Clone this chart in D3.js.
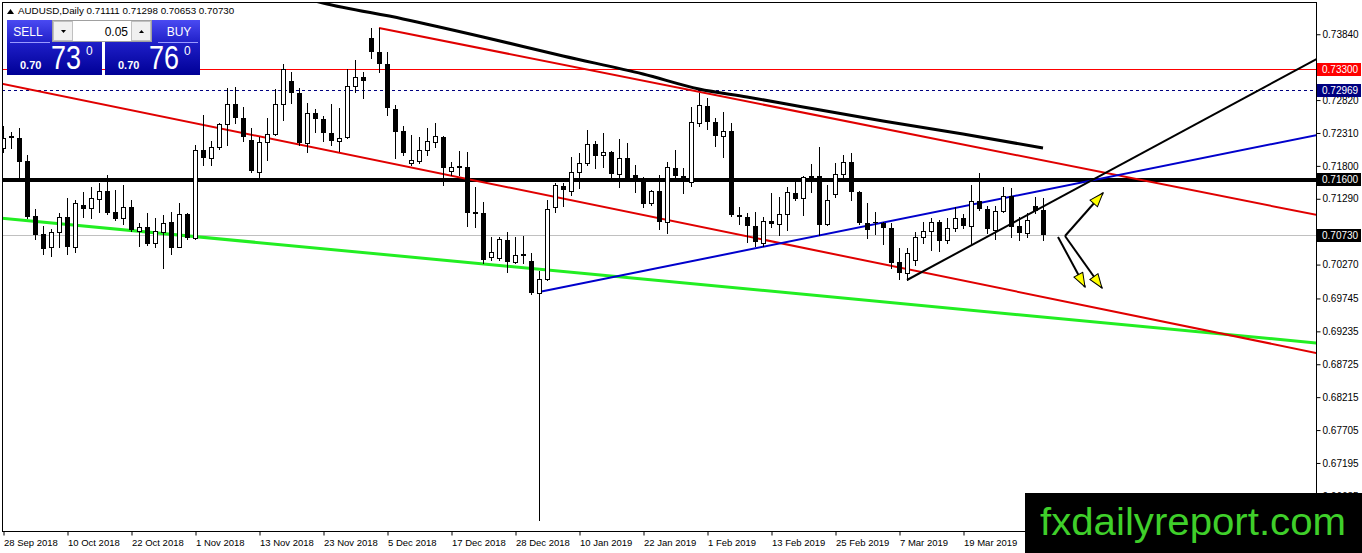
<!DOCTYPE html>
<html lang="en">

<head>
    <meta charset="utf-8">
    <title>AUDUSD Daily</title>
    <script type="text/javascript" src="https://d3js.org/d3.v7.min.js"></script>
    <style type="text/css">
        body {
            margin: 0;
            background: #fff;
            overflow: hidden;
        }

        svg text {
            font-family: "Liberation Sans", Arial, sans-serif;
        }
    </style>
</head>

<body>
    <svg width="1362" height="553"></svg>
    <script type="text/javascript">
        //Daily candles, bar 0 = 28 Sep 2018
        const opens = [0.72077, 0.72263, 0.72232, 0.71876, 0.71023, 0.70744, 0.70543, 0.70775, 0.71008, 0.70543,
            0.71194, 0.71147, 0.71287, 0.71411, 0.71085, 0.70992, 0.71163, 0.70791, 0.70853, 0.70605,
            0.70775, 0.70930, 0.70543, 0.71054, 0.70682, 0.72046, 0.71922, 0.72093, 0.72449, 0.72759,
            0.72542, 0.72201, 0.71705, 0.72170, 0.72294, 0.72759, 0.73116, 0.72930, 0.72155, 0.72620,
            0.72527, 0.72310, 0.72186, 0.72248, 0.73038, 0.73178, 0.73782, 0.73565, 0.73379, 0.72682,
            0.72341, 0.71845, 0.71876, 0.72046, 0.72170, 0.72248, 0.71720, 0.71798, 0.71783, 0.71085,
            0.71070, 0.70388, 0.70372, 0.70651, 0.70310, 0.70434, 0.70326, 0.69830, 0.70047, 0.71163,
            0.71488, 0.71411, 0.71705, 0.71845, 0.72139, 0.71969, 0.72015, 0.71674, 0.71922, 0.71659,
            0.71612, 0.71225, 0.71411, 0.70930, 0.71767, 0.71643, 0.71550, 0.72465, 0.72728, 0.72480,
            0.72263, 0.72341, 0.71039, 0.71008, 0.70868, 0.70605, 0.70946, 0.70899, 0.71054, 0.71380,
            0.71302, 0.71643, 0.71643, 0.70899, 0.71364, 0.71674, 0.71860, 0.71395, 0.70915, 0.70930,
            0.70915, 0.70837, 0.70310, 0.70140, 0.70341, 0.70698, 0.70791, 0.70930, 0.70651, 0.70837,
            0.70992, 0.70868, 0.71256, 0.71132, 0.70806, 0.71101, 0.71333, 0.70868, 0.70760, 0.71178,
            0.71111];
        const highs = [0.72418, 0.72325, 0.72387, 0.71969, 0.71132, 0.70868, 0.70822, 0.71070, 0.71302, 0.71271,
            0.71395, 0.71473, 0.71535, 0.71659, 0.71426, 0.71504, 0.71271, 0.70915, 0.71070, 0.70992,
            0.71039, 0.71085, 0.71225, 0.71070, 0.72124, 0.72589, 0.72186, 0.72465, 0.73007, 0.73023,
            0.72713, 0.72387, 0.72248, 0.72542, 0.72992, 0.73379, 0.73255, 0.73007, 0.72775, 0.72682,
            0.72573, 0.72759, 0.72697, 0.73302, 0.73441, 0.73255, 0.73937, 0.73937, 0.73565, 0.72744,
            0.72418, 0.72279, 0.72248, 0.72387, 0.72465, 0.72263, 0.71860, 0.72031, 0.72015, 0.71473,
            0.71240, 0.70698, 0.70698, 0.70775, 0.70698, 0.70713, 0.70450, 0.70171, 0.71271, 0.71535,
            0.71535, 0.71938, 0.72000, 0.72356, 0.72186, 0.72310, 0.72031, 0.72217, 0.72155, 0.71814,
            0.71628, 0.71426, 0.71659, 0.71860, 0.72046, 0.71767, 0.72713, 0.72930, 0.72852, 0.72542,
            0.72635, 0.72465, 0.71163, 0.71070, 0.71085, 0.71008, 0.71380, 0.71318, 0.71473, 0.71566,
            0.71643, 0.71829, 0.72093, 0.71504, 0.71845, 0.71969, 0.72000, 0.71411, 0.71225, 0.71085,
            0.70930, 0.70915, 0.70527, 0.70527, 0.70775, 0.70930, 0.70992, 0.70961, 0.70992, 0.71163,
            0.71054, 0.71504, 0.71690, 0.71178, 0.71178, 0.71473, 0.71457, 0.71008, 0.71070, 0.71318,
            0.71298];
        const lows = [0.72015, 0.72077, 0.71628, 0.70992, 0.70667, 0.70434, 0.70403, 0.70543, 0.70434, 0.70465,
            0.71008, 0.70992, 0.71085, 0.71054, 0.70961, 0.70899, 0.70791, 0.70558, 0.70574, 0.70543,
            0.70217, 0.70434, 0.70543, 0.70667, 0.70667, 0.71814, 0.71814, 0.72062, 0.72124, 0.72465,
            0.72186, 0.71705, 0.71628, 0.71891, 0.72279, 0.72511, 0.72775, 0.72124, 0.72015, 0.72325,
            0.72186, 0.72124, 0.72031, 0.72232, 0.72945, 0.72852, 0.73472, 0.73255, 0.72589, 0.71922,
            0.71969, 0.71814, 0.71845, 0.71969, 0.72093, 0.71504, 0.71659, 0.71659, 0.70868, 0.70853,
            0.70295, 0.70341, 0.70341, 0.70155, 0.70295, 0.70295, 0.69814, 0.66311, 0.70031, 0.71085,
            0.71178, 0.71349, 0.71457, 0.71814, 0.71767, 0.71783, 0.71612, 0.71473, 0.71597, 0.71395,
            0.71163, 0.71194, 0.70822, 0.70760, 0.71628, 0.71380, 0.71488, 0.72418, 0.72372, 0.72108,
            0.71938, 0.71023, 0.70899, 0.70620, 0.70558, 0.70558, 0.70853, 0.70729, 0.70806, 0.71271,
            0.71039, 0.71395, 0.70729, 0.70884, 0.71318, 0.71628, 0.71271, 0.70899, 0.70682, 0.70744,
            0.70589, 0.70217, 0.70047, 0.70031, 0.70264, 0.70605, 0.70496, 0.70481, 0.70605, 0.70791,
            0.70837, 0.70574, 0.71116, 0.70760, 0.70667, 0.71085, 0.70698, 0.70651, 0.70698, 0.71070,
            0.70653];
        const closes = [0.72232, 0.72232, 0.71860, 0.71008, 0.70729, 0.70512, 0.70775, 0.71008, 0.70543, 0.71225,
            0.71132, 0.71302, 0.71411, 0.71070, 0.70977, 0.71163, 0.70806, 0.70853, 0.70589, 0.70791,
            0.70915, 0.70527, 0.71054, 0.70682, 0.72046, 0.71922, 0.72093, 0.72449, 0.72759, 0.72542,
            0.72248, 0.71720, 0.72170, 0.72294, 0.72759, 0.73302, 0.72930, 0.72155, 0.72620, 0.72527,
            0.72310, 0.72186, 0.72232, 0.73038, 0.73178, 0.73116, 0.73565, 0.73379, 0.72697, 0.72325,
            0.72000, 0.71891, 0.72046, 0.72186, 0.72263, 0.71767, 0.71783, 0.71767, 0.71070, 0.71054,
            0.70341, 0.70465, 0.70667, 0.70310, 0.70419, 0.70403, 0.69830, 0.70047, 0.71132, 0.71504,
            0.71426, 0.71705, 0.71845, 0.72139, 0.71953, 0.72015, 0.71674, 0.71922, 0.71612, 0.71612,
            0.71209, 0.71411, 0.70930, 0.71783, 0.71643, 0.71550, 0.72480, 0.72744, 0.72480, 0.72263,
            0.72341, 0.71039, 0.71008, 0.70868, 0.70620, 0.70946, 0.70899, 0.71054, 0.71395, 0.71287,
            0.71628, 0.71612, 0.70884, 0.71271, 0.71674, 0.71860, 0.71395, 0.70915, 0.70806, 0.70915,
            0.70837, 0.70295, 0.70140, 0.70450, 0.70698, 0.70791, 0.70930, 0.70636, 0.70837, 0.70992,
            0.70868, 0.71256, 0.71132, 0.70822, 0.71101, 0.71333, 0.70853, 0.70760, 0.70961, 0.71101,
            0.70730];

        //Date labels every 8 bars
        const dateLabels = ['28 Sep 2018', '10 Oct 2018', '22 Oct 2018', '1 Nov 2018', '13 Nov 2018', '23 Nov 2018',
            '5 Dec 2018', '17 Dec 2018', '28 Dec 2018', '10 Jan 2019', '22 Jan 2019', '1 Feb 2019',
            '13 Feb 2019', '25 Feb 2019', '7 Mar 2019', '19 Mar 2019'];
        const priceTicks = [0.73840, 0.72820, 0.72310, 0.71800, 0.71290, 0.70270, 0.69745, 0.69235,
            0.68725, 0.68215, 0.67705, 0.67195, 0.66685];

        //Moving average (bar, value)
        const maBars = [38, 40, 50, 60, 70, 80, 87, 93, 100, 110, 120, 130];
        const maValues = [0.74387, 0.74325, 0.74077, 0.73798, 0.73503, 0.73224, 0.72992, 0.72868, 0.72713, 0.72496, 0.72294, 0.72077];

        //Drawn objects: [bar, price] pairs
        const redUpper = [[47, 0.73937], [164.2, 0.71039]];
        const redLower = [[-0.5, 0.73084], [164.2, 0.68899]];
        const greenLine = [[-0.5, 0.70992], [164.2, 0.69055]];
        const blueLine = [[67, 0.69845], [164.2, 0.72278]];
        const blackLine = [[113, 0.70031], [164.2, 0.73456]];
        const arrows = [
            [[132.75, 0.70713], [137.5, 0.71380]],
            [[131.875, 0.70698], [135.25, 0.69923]],
            [[132.75, 0.70713], [137.375, 0.69907]]
        ];

        //Horizontal levels with right-side tags
        const levels = [
            { price: 0.73300, color: '#ff0000', width: 1, dash: null, tag: '#ff0000' },
            { price: 0.72969, color: '#000080', width: 1, dash: '3,3', tag: '#000080' },
            { price: 0.71600, color: '#000000', width: 4, dash: null, tag: '#000000' },
            { price: 0.70730, color: '#c0c0c0', width: 1, dash: null, tag: '#000000' }
        ];

        const symbol = 'AUDUSD,Daily';
        const sellQuote = ['0.70', '73', '0'];
        const buyQuote = ['0.70', '76', '0'];
        const lotSize = '0.05';

        const svg = d3.select('svg');
        const plotRight = 1316;
        const plotBottom = 531;

        const xScale = d3.scaleLinear().domain([0, 130]).range([3, 1043]);
        const yScale = d3.scaleLinear().domain([0.74371, 0.661405]).range([0, plotBottom]);

        const defs = svg.append('defs');
        defs.append('clipPath').attr('id', 'plotClip')
            .append('rect').attr('x', 2).attr('y', 2)
            .attr('width', plotRight - 2).attr('height', plotBottom - 2);

        const grad = defs.append('linearGradient').attr('id', 'blueGrad')
            .attr('x1', 0).attr('y1', 0).attr('x2', 0).attr('y2', 1);
        grad.append('stop').attr('offset', '0%').attr('stop-color', '#4a4af2');
        grad.append('stop').attr('offset', '45%').attr('stop-color', '#1c1cc4');
        grad.append('stop').attr('offset', '100%').attr('stop-color', '#000096');

        defs.append('marker').attr('id', 'yellowHead')
            .attr('markerUnits', 'userSpaceOnUse')
            .attr('viewBox', '0 0 16 12')
            .attr('markerWidth', 16).attr('markerHeight', 12)
            .attr('refX', 15).attr('refY', 6)
            .attr('orient', 'auto')
            .append('path')
            .attr('d', 'M1,1 L15,6 L1,11 Z')
            .attr('fill', '#ffff00')
            .attr('stroke', '#000')
            .attr('stroke-width', 1);

        const plot = svg.append('g').attr('clip-path', 'url(#plotClip)');

        //Horizontal levels
        plot.selectAll('line.level')
            .data(levels)
            .enter()
            .append('line')
            .attr('class', 'level')
            .attr('x1', 2).attr('x2', plotRight)
            .attr('y1', d => Math.round(yScale(d.price)) + 0.5)
            .attr('y2', d => Math.round(yScale(d.price)) + 0.5)
            .attr('stroke', d => d.color)
            .attr('stroke-width', d => d.width)
            .attr('stroke-dasharray', d => d.dash)
            .attr('shape-rendering', 'crispEdges');

        const line = d3.line()
            .x(d => xScale(d[0]))
            .y(d => yScale(d[1]));

        //Trend lines
        const trends = [
            { pts: greenLine, color: '#22ee22', w: 3 },
            { pts: redLower, color: '#e00000', w: 2 },
            { pts: redUpper, color: '#e00000', w: 2 },
            { pts: blueLine, color: '#0000cc', w: 2 },
            { pts: blackLine, color: '#000000', w: 2 }
        ];
        plot.selectAll('path.trend')
            .data(trends)
            .enter()
            .append('path')
            .attr('class', 'trend')
            .attr('d', d => line(d.pts))
            .attr('fill', 'none')
            .attr('stroke', d => d.color)
            .attr('stroke-width', d => d.w);

        //Moving average
        const maLine = d3.line()
            .x((d, i) => xScale(maBars[i]))
            .y(d => yScale(d))
            .curve(d3.curveMonotoneX);
        plot.append('path')
            .attr('d', maLine(maValues))
            .attr('fill', 'none')
            .attr('stroke', '#000')
            .attr('stroke-width', 3);

        //Candles
        const candles = opens.map((o, i) => ({ i: i, o: o, h: highs[i], l: lows[i], c: closes[i] }));
        const cx = d => Math.round(xScale(d.i));

        const candleG = plot.selectAll('g.candle')
            .data(candles)
            .enter()
            .append('g')
            .attr('class', 'candle');

        candleG.append('line')
            .attr('x1', d => cx(d) + 0.5).attr('x2', d => cx(d) + 0.5)
            .attr('y1', d => Math.round(yScale(d.h)))
            .attr('y2', d => Math.round(yScale(d.l)) + 1)
            .attr('stroke', '#000')
            .attr('shape-rendering', 'crispEdges');

        candleG.append('rect')
            .attr('x', d => d.c >= d.o ? cx(d) - 1.5 : cx(d) - 2)
            .attr('y', d => {
                const top = Math.round(yScale(Math.max(d.o, d.c)));
                return d.c >= d.o ? top + 0.5 : top;
            })
            .attr('width', d => d.c >= d.o ? 4 : 5)
            .attr('height', d => {
                const hgt = Math.round(yScale(Math.min(d.o, d.c))) - Math.round(yScale(Math.max(d.o, d.c)));
                return Math.max(hgt, 1);
            })
            .attr('fill', d => d.c >= d.o ? '#fff' : '#000')
            .attr('stroke', d => d.c >= d.o ? '#000' : 'none')
            .attr('shape-rendering', 'crispEdges');

        //Arrows
        plot.selectAll('path.arrow')
            .data(arrows)
            .enter()
            .append('path')
            .attr('class', 'arrow')
            .attr('d', d => line(d))
            .attr('stroke', '#000')
            .attr('stroke-width', 2)
            .attr('marker-end', 'url(#yellowHead)');

        //Frame
        svg.append('rect')
            .attr('x', 2.5).attr('y', 2.5)
            .attr('width', plotRight - 2).attr('height', plotBottom - 2)
            .attr('fill', 'none')
            .attr('stroke', '#000')
            .attr('shape-rendering', 'crispEdges');

        //Price axis
        const rightAxis = d3.axisRight(yScale)
            .tickValues(priceTicks)
            .tickFormat(d3.format('.5f'))
            .tickSize(4)
            .tickSizeOuter(0);
        svg.append('g')
            .attr('transform', 'translate(' + (plotRight + 0.5) + ',0)')
            .call(rightAxis)
            .call(g => g.select('.domain').remove())
            .call(g => g.selectAll('.tick text')
                .attr('x', 6)
                .style('font-family', '"Liberation Sans", Arial, sans-serif')
                .style('font-size', '10px')
                .attr('fill', '#000'));

        //Level tags
        const tags = svg.selectAll('g.tag')
            .data(levels)
            .enter()
            .append('g')
            .attr('class', 'tag')
            .attr('transform', d => 'translate(' + (plotRight + 1) + ',' + Math.round(yScale(d.price)) + ')');
        tags.append('rect')
            .attr('x', 0).attr('y', -6)
            .attr('width', 44).attr('height', 13)
            .attr('fill', d => d.tag);
        tags.append('text')
            .attr('x', 5).attr('y', 4)
            .attr('fill', '#fff')
            .style('font-size', '10px')
            .text(d => d3.format('.5f')(d.price));

        //Time axis
        const bottomAxis = d3.axisBottom(xScale)
            .tickValues(dateLabels.map((d, i) => i * 8))
            .tickFormat((d, i) => dateLabels[i])
            .tickSize(4)
            .tickSizeOuter(0);
        svg.append('g')
            .attr('transform', 'translate(0.5,' + (plotBottom + 0.5) + ')')
            .call(bottomAxis)
            .call(g => g.select('.domain').remove())
            .call(g => g.selectAll('.tick text')
                .attr('text-anchor', 'start')
                .attr('x', 0)
                .attr('dy', 0)
                .attr('y', 14)
                .style('font-family', '"Liberation Sans", Arial, sans-serif')
                .style('font-size', '9.5px')
                .attr('fill', '#000'));

        //Header text
        const last = candles[candles.length - 1];
        const fmt = d3.format('.5f');
        svg.append('path')
            .attr('d', 'M7,14 L10.5,9 L14,14 Z')
            .attr('fill', '#000');
        svg.append('text')
            .attr('x', 18).attr('y', 14)
            .style('font-size', '9.8px')
            .text(symbol + '  ' + [last.o, last.h, last.l, last.c].map(fmt).join(' '));

        //One-click trading panel
        const panel = svg.append('g');
        [[7, sellQuote, 'SELL', 28], [105, buyQuote, 'BUY', 179]].forEach(([px, q, label, lx]) => {
            panel.append('rect')
                .attr('x', px).attr('y', 20)
                .attr('width', 95).attr('height', 55)
                .attr('fill', 'url(#blueGrad)');
            panel.append('text')
                .attr('x', lx).attr('y', 36)
                .attr('text-anchor', 'middle')
                .attr('fill', '#fff')
                .style('font-size', '12px')
                .text(label);
            panel.append('text')
                .attr('x', px + 13).attr('y', 69)
                .attr('fill', '#fff')
                .style('font-size', '11px')
                .style('font-weight', 'bold')
                .text(q[0]);
            panel.append('text')
                .attr('x', px + 44).attr('y', 69)
                .attr('fill', '#fff')
                .attr('textLength', 30)
                .attr('lengthAdjust', 'spacingAndGlyphs')
                .style('font-size', '33px')
                .text(q[1]);
            panel.append('text')
                .attr('x', px + 79).attr('y', 55)
                .attr('fill', '#fff')
                .style('font-size', '12px')
                .text(q[2]);
        });
        panel.append('line').attr('x1', 10).attr('x2', 50).attr('y1', 42.5).attr('y2', 42.5)
            .attr('stroke', '#9a9aff');
        panel.append('line').attr('x1', 158).attr('x2', 198).attr('y1', 42.5).attr('y2', 42.5)
            .attr('stroke', '#9a9aff');

        //Lot spinner
        panel.append('rect')
            .attr('x', 52.5).attr('y', 20.5).attr('width', 99).attr('height', 21)
            .attr('fill', '#fff').attr('stroke', '#a0a0a0');
        panel.append('rect')
            .attr('x', 53.5).attr('y', 21.5).attr('width', 19).attr('height', 19)
            .attr('fill', '#f0f0f0').attr('stroke', '#c0c0c0');
        panel.append('rect')
            .attr('x', 131.5).attr('y', 21.5).attr('width', 19).attr('height', 19)
            .attr('fill', '#f0f0f0').attr('stroke', '#c0c0c0');
        panel.append('path').attr('d', 'M61,30 L66,30 L63.5,33 Z').attr('fill', '#000');
        panel.append('path').attr('d', 'M139,33 L144,33 L141.5,30 Z').attr('fill', '#000');
        panel.append('text')
            .attr('x', 128).attr('y', 36)
            .attr('text-anchor', 'end')
            .style('font-size', '12px')
            .text(lotSize);

        //Watermark
        svg.append('rect')
            .attr('x', 1025).attr('y', 493)
            .attr('width', 337).attr('height', 60)
            .attr('fill', '#000');
        svg.append('text')
            .attr('x', 1040).attr('y', 535)
            .attr('fill', '#3fcf2a')
            .attr('textLength', 306)
            .attr('lengthAdjust', 'spacingAndGlyphs')
            .style('font-size', '38px')
            .text('fxdailyreport.com');
    </script>
</body>

</html>
